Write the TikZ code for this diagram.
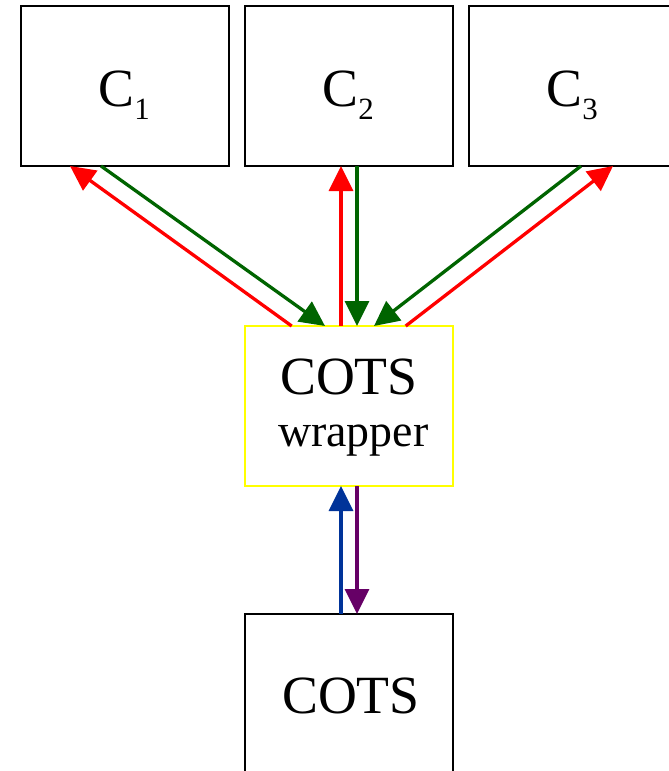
\documentclass[tikz,border=0pt]{standalone}
\usepackage{fontspec}
\setmainfont{Liberation Serif}
\usetikzlibrary{arrows.meta}
\definecolor{cred}{RGB}{255,0,0}
\definecolor{cgreen}{RGB}{0,100,0}
\definecolor{cblue}{RGB}{0,51,153}
\definecolor{cpurple}{RGB}{102,0,102}
\definecolor{cyellow}{RGB}{255,255,0}
\tikzset{
  box/.style={draw=black, line width=2bp, minimum width=208bp, minimum height=160bp, inner sep=0pt, outer sep=0pt, fill=white},
  wbox/.style={draw=cyellow, line width=1.6bp, minimum width=208bp, minimum height=160bp, inner sep=0pt, outer sep=0pt},
  lbl/.style={inner sep=0pt, anchor=base west, font=\fontsize{54}{60}\selectfont},
  sublbl/.style={inner sep=0pt, anchor=base west, font=\fontsize{31}{34}\selectfont},
  wlbl/.style={inner sep=0pt, anchor=base west, font=\fontsize{46}{50}\selectfont},
  conn/.style={line width=3.3bp, -{Triangle[length=25bp,width=24bp]}},
}
\begin{document}
\begin{tikzpicture}[x=1bp,y=-1bp]
\useasboundingbox (0,0) rectangle (669,771);
% boxes
\node[box] (c1) at (125,86) {};
\node[box] (c2) at (349,86) {};
\node[box] (c3) at (573,86) {};
\node[wbox] (w) at (349,406) {};
\node[box] (cots) at (349,694) {};
% labels
\node[lbl] (c1c) at (98,106) {C};
\node[sublbl] (c1s) at (c1c.base east) [yshift=-13bp] {1};
\node[lbl] (c2c) at (322,106) {C};
\node[sublbl] (c2s) at (c2c.base east) [yshift=-13bp] {2};
\node[lbl] (c3c) at (546,106) {C};
\node[sublbl] (c3s) at (c3c.base east) [yshift=-13bp] {3};
\node[lbl] (wt1) at (280,394) {COTS};
\node[wlbl] (wt2) at (278,446) {wrapper};
\node[lbl] (ct) at (282,713) {COTS};
% connectors C1
\draw[conn, cred] ([xshift=46.7bp]w.north west) -- ([xshift=49bp]c1.south west);
\draw[conn, cgreen] ([xshift=80bp]c1.south west) -- ([xshift=80bp]w.north west);
% C2
\draw[conn, cred] ([xshift=96bp]w.north west) -- ([xshift=96bp]c2.south west);
\draw[conn, cgreen] ([xshift=112bp]c2.south west) -- ([xshift=112bp]w.north west);
% C3
\draw[conn, cgreen] ([xshift=112bp]c3.south west) -- ([xshift=129bp]w.north west);
\draw[conn, cred] ([xshift=160.7bp]w.north west) -- ([xshift=144bp]c3.south west);
% COTS
\draw[conn, cblue] ([xshift=96bp]cots.north west) -- ([xshift=96bp]w.south west);
\draw[conn, cpurple] ([xshift=112bp]w.south west) -- ([xshift=112bp]cots.north west);
\end{tikzpicture}
\end{document}
